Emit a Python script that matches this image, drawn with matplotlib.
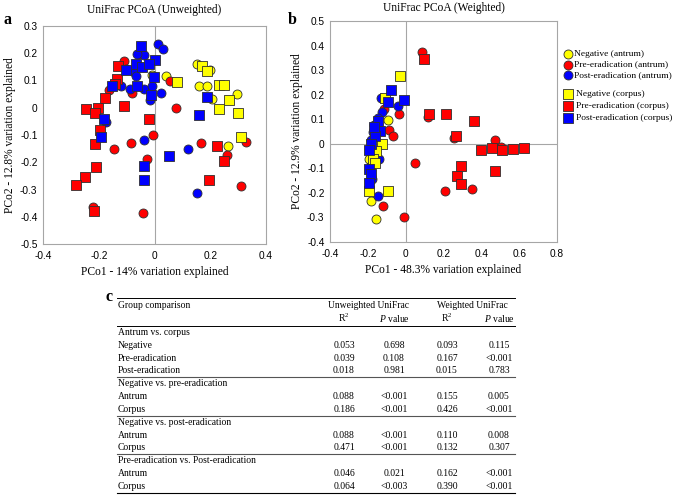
import matplotlib
matplotlib.use("Agg")
import matplotlib.pyplot as plt
from matplotlib.ticker import FuncFormatter, FixedLocator

SERIF = "Liberation Serif"
SANS = "Liberation Sans"
plt.rcParams["mathtext.fontset"] = "custom"
plt.rcParams["mathtext.rm"] = SERIF
plt.rcParams["mathtext.it"] = SERIF + ":italic"

# ---------------- data: panel a (unweighted) ----------------
a_neg_antrum_x = [-0.010, 0.043, 0.152, 0.199, 0.160, 0.188, 0.208, 0.295, 0.263]
a_neg_antrum_y = [0.122, 0.117, 0.161, 0.138, 0.078, 0.078, 0.031, 0.051, -0.140]
a_pre_antrum_x = [-0.109, -0.054, -0.079, -0.163, 0.054, 0.077, -0.007, -0.084, -0.146,
                  -0.028, 0.167, 0.261, 0.328, 0.311, -0.221, -0.043]
a_pre_antrum_y = [0.173, 0.198, 0.054, 0.066, 0.098, -0.002, -0.099, -0.129, -0.150,
                  -0.188, -0.129, -0.172, -0.125, -0.286, -0.366, -0.386]
a_post_antrum_x = [0.011, 0.030, -0.037, -0.062, -0.102, -0.075, -0.068, -0.120, -0.087,
                   -0.037, -0.010, -0.016, 0.022, -0.173, -0.039, 0.121, 0.151]
a_post_antrum_y = [0.234, 0.214, 0.192, 0.198, 0.143, 0.132, 0.115, 0.079, 0.070,
                   0.070, 0.079, 0.029, 0.053, -0.051, -0.117, -0.150, -0.313]
a_neg_corpus_x = [0.080, 0.169, 0.187, 0.232, 0.251, 0.266, 0.230, 0.301, 0.311]
a_neg_corpus_y = [0.093, 0.155, 0.136, 0.083, 0.083, 0.027, -0.006, -0.020, -0.109]
a_pre_corpus_x = [-0.132, -0.133, -0.141, -0.177, -0.111, -0.245, -0.203, -0.213, -0.197,
                  -0.215, -0.211, -0.250, -0.281, -0.218, -0.018, 0.225, 0.248, 0.195]
a_pre_corpus_y = [0.155, 0.104, 0.088, 0.037, 0.007, -0.005, 0.000, -0.018, -0.083,
                  -0.133, -0.219, -0.255, -0.284, -0.380, -0.040, -0.142, -0.194, -0.265]
a_post_corpus_x = [-0.048, 0.000, -0.104, -0.065, -0.045, -0.019, -0.002, -0.154, -0.063,
                   -0.014, 0.187, 0.160, -0.182, -0.193, 0.053, -0.036, -0.037]
a_post_corpus_y = [0.228, 0.176, 0.139, 0.161, 0.149, 0.161, 0.114, 0.078, 0.081,
                   0.046, 0.040, -0.026, -0.043, -0.106, -0.176, -0.215, -0.264]

# ---------------- data: panel b (weighted) ----------------
b_neg_antrum_x = [-0.096, -0.190, -0.183, -0.155, -0.182, -0.196]
b_neg_antrum_y = [0.095, -0.064, -0.234, -0.308, -0.133, -0.061]
b_pre_antrum_x = [0.084, -0.033, 0.119, -0.086, -0.065, -0.112, 0.253, 0.473, 0.505,
                  0.049, 0.208, 0.353, -0.119, -0.010]
b_pre_antrum_y = [0.374, 0.120, 0.109, 0.058, 0.031, 0.143, 0.022, 0.014, -0.014,
                  -0.077, -0.193, -0.185, -0.253, -0.299]
b_post_antrum_x = [-0.133, -0.038, -0.126, -0.148, -0.169, -0.175, -0.183, -0.143, -0.178,
                   -0.147, -0.185, -0.161]
b_post_antrum_y = [0.188, 0.154, 0.129, 0.106, 0.075, 0.048, 0.014, -0.064, -0.145,
                   -0.213, -0.092, 0.041]
b_neg_corpus_x = [-0.030, -0.107, -0.126, -0.157, -0.175, -0.162, -0.091, -0.192]
b_neg_corpus_y = [0.277, 0.186, 0.000, -0.031, -0.064, -0.077, -0.193, -0.193]
b_pre_corpus_x = [0.098, 0.124, 0.213, 0.363, 0.267, 0.397, 0.456, 0.508, 0.569, 0.625,
                  0.290, 0.269, 0.293, 0.473]
b_pre_corpus_y = [0.346, 0.120, 0.120, 0.091, 0.031, -0.027, -0.018, -0.027, -0.023,
                  -0.018, -0.091, -0.133, -0.162, -0.110]
b_post_corpus_x = [-0.077, -0.010, -0.096, -0.147, -0.135, -0.164, -0.182, -0.192, -0.192,
                   -0.182, -0.192, -0.169]
b_post_corpus_y = [0.217, 0.177, 0.170, 0.092, 0.054, 0.030, 0.000, -0.024, -0.102,
                   -0.122, -0.160, 0.068]

legend_labels = ["Negative (antrum)", "Pre-eradication (antrum)", "Post-eradication (antrum)",
                 "Negative (corpus)", "Pre-eradication (corpus)", "Post-eradication (corpus)"]

# ---------------- data: table c ----------------
table_groups = ["Antrum vs. corpus", "Negative vs. pre-eradication",
                "Negative vs. post-eradication", "Pre-eradication vs. Post-eradication"]
table_rows = [
    [("Negative", "0.053", "0.698", "0.093", "0.115"),
     ("Pre-eradication", "0.039", "0.108", "0.167", "<0.001"),
     ("Post-eradication", "0.018", "0.981", "0.015", "0.783")],
    [("Antrum", "0.088", "<0.001", "0.155", "0.005"),
     ("Corpus", "0.186", "<0.001", "0.426", "<0.001")],
    [("Antrum", "0.088", "<0.001", "0.110", "0.008"),
     ("Corpus", "0.471", "<0.001", "0.132", "0.307")],
    [("Antrum", "0.046", "0.021", "0.162", "<0.001"),
     ("Corpus", "0.064", "<0.003", "0.390", "<0.001")],
]

# ---------------- styling ----------------
W, H = 673, 501
YEL, RED, BLU = "#FFFF00", "#FF0000", "#0000FF"
EDGE = "#303030"
GRID = "#a6a6a6"
MS = 42
LBL = 8.3
TICK = 7.3

fig = plt.figure(figsize=(W / 100, H / 100), dpi=100)


def px_axes(x0, y0, x1, y1):
    return fig.add_axes([x0 / W, 1 - y1 / H, (x1 - x0) / W, (y1 - y0) / H])


def fmt(v, pos):
    if abs(v) < 1e-9:
        return "0"
    return ("%.1f" % v)


def style_axes(ax, xt, yt):
    ax.set_facecolor("white")
    for s in ax.spines.values():
        s.set_color(GRID)
        s.set_linewidth(0.8)
    ax.xaxis.set_major_locator(FixedLocator(xt))
    ax.yaxis.set_major_locator(FixedLocator(yt))
    ax.xaxis.set_major_formatter(FuncFormatter(fmt))
    ax.yaxis.set_major_formatter(FuncFormatter(fmt))
    ax.tick_params(axis="y", length=0, labelsize=TICK, pad=4)
    ax.tick_params(axis="x", length=0, labelsize=TICK, pad=5)
    for lab in ax.get_xticklabels() + ax.get_yticklabels():
        lab.set_fontfamily(SANS)


def draw_groups(ax, groups):
    for (xs, ys, c, m) in groups:
        ax.scatter(xs, ys, s=MS, c=c, marker=m, edgecolors=EDGE, linewidths=0.6, zorder=3)


# panel a
ax1 = px_axes(43, 26, 266, 244)
ax1.set_xlim(-0.4, 0.4)
ax1.set_ylim(-0.5, 0.3)
ax1.axvline(0, color=GRID, lw=0.8, zorder=1)
style_axes(ax1, [-0.4, -0.2, 0, 0.2, 0.4], [-0.5, -0.4, -0.3, -0.2, -0.1, 0, 0.1, 0.2, 0.3])
draw_groups(ax1, [
    (a_neg_antrum_x, a_neg_antrum_y, YEL, "o"),
    (a_pre_antrum_x, a_pre_antrum_y, RED, "o"),
    (a_post_antrum_x, a_post_antrum_y, BLU, "o"),
    (a_neg_corpus_x, a_neg_corpus_y, YEL, "s"),
    (a_pre_corpus_x, a_pre_corpus_y, RED, "s"),
    (a_post_corpus_x, a_post_corpus_y, BLU, "s"),
])
ax1.set_title("UniFrac PCoA (Unweighted)", fontfamily=SERIF, fontsize=LBL, pad=9)
ax1.set_xlabel("PCo1 - 14% variation explained", fontfamily=SERIF, fontsize=LBL, labelpad=4)
ax1.set_ylabel("PCo2 - 12.8% variation explained", fontfamily=SERIF, fontsize=LBL, labelpad=3)

# panel b
ax2 = px_axes(330, 21, 557, 242)
ax2.set_xlim(-0.4, 0.8)
ax2.set_ylim(-0.4, 0.5)
ax2.axvline(0, color=GRID, lw=0.8, zorder=1)
ax2.axhline(0, color=GRID, lw=0.8, zorder=1)
style_axes(ax2, [-0.4, -0.2, 0, 0.2, 0.4, 0.6, 0.8],
           [-0.4, -0.3, -0.2, -0.1, 0, 0.1, 0.2, 0.3, 0.4, 0.5])
draw_groups(ax2, [
    (b_neg_antrum_x, b_neg_antrum_y, YEL, "o"),
    (b_pre_antrum_x, b_pre_antrum_y, RED, "o"),
    (b_post_antrum_x, b_post_antrum_y, BLU, "o"),
    (b_neg_corpus_x, b_neg_corpus_y, YEL, "s"),
    (b_pre_corpus_x, b_pre_corpus_y, RED, "s"),
    (b_post_corpus_x, b_post_corpus_y, BLU, "s"),
])
ax2.set_title("UniFrac PCoA (Weighted)", fontfamily=SERIF, fontsize=LBL, pad=7)
ax2.set_xlabel("PCo1 - 48.3% variation explained", fontfamily=SERIF, fontsize=LBL, labelpad=4)
ax2.set_ylabel("PCo2 - 12.9% variation explained", fontfamily=SERIF, fontsize=LBL, labelpad=3)

# overlay axes in pixel coordinates
ov = fig.add_axes([0, 0, 1, 1], facecolor="none")
ov.set_xlim(0, W)
ov.set_ylim(H, 0)
ov.axis("off")

# panel letters
ov.text(4, 20, "a", fontfamily=SERIF, fontsize=11.5, fontweight="bold", va="center", ha="left")
ov.text(288, 20, "b", fontfamily=SERIF, fontsize=11.5, fontweight="bold", va="center", ha="left")
ov.text(106, 297, "c", fontfamily=SERIF, fontsize=11.5, fontweight="bold", va="center", ha="left")

# legend
leg_y = [53.5, 64.5, 75, 94, 106, 117.5]
leg_col = [YEL, RED, BLU, YEL, RED, BLU]
leg_mk = ["o", "o", "o", "s", "s", "s"]
for i, lab in enumerate(legend_labels):
    ov.scatter([568], [leg_y[i]], s=MS, c=leg_col[i], marker=leg_mk[i],
               edgecolors=EDGE, linewidths=0.6, clip_on=False)
    ov.text(574 if i < 3 else 576, leg_y[i], lab, fontfamily=SERIF, fontsize=6.8,
            va="center", ha="left")

# table
TX0, TX1 = 117, 515
FS = 6.9
col_x = [344, 394, 447, 499]
for yy in [298.3, 326]:
    ov.plot([TX0, TX1], [yy, yy], color="black", lw=0.7)
ov.text(118, 305.7, "Group comparison", fontfamily=SERIF, fontsize=FS, va="center")
ov.text(368, 305.7, "Unweighted UniFrac", fontfamily=SERIF, fontsize=FS, va="center", ha="center")
ov.text(472, 305.7, "Weighted UniFrac", fontfamily=SERIF, fontsize=FS, va="center", ha="center")
for j in (0, 2):
    ov.text(col_x[j], 318.3, r"R$^{2}$", fontfamily=SERIF, fontsize=FS, va="center", ha="center")
    ov.text(col_x[j + 1], 318.3, r"$\it{P}$ value", fontfamily=SERIF, fontsize=FS,
            va="center", ha="center")

y = 332.3
step = 12.85
for gi, g in enumerate(table_groups):
    ov.text(118, y, g, fontfamily=SERIF, fontsize=FS, va="center")
    y += step
    for row in table_rows[gi]:
        ov.text(118, y, row[0], fontfamily=SERIF, fontsize=FS, va="center")
        for j in range(4):
            ov.text(col_x[j], y, row[j + 1], fontfamily=SERIF, fontsize=FS,
                    va="center", ha="center")
        y += step
    line_y = y - step / 2 - 0.3
    ov.plot([TX0, TX1], [line_y, line_y], color="black" if gi == 3 else "#555555", lw=0.8)

fig.savefig("out.png", dpi=100)
